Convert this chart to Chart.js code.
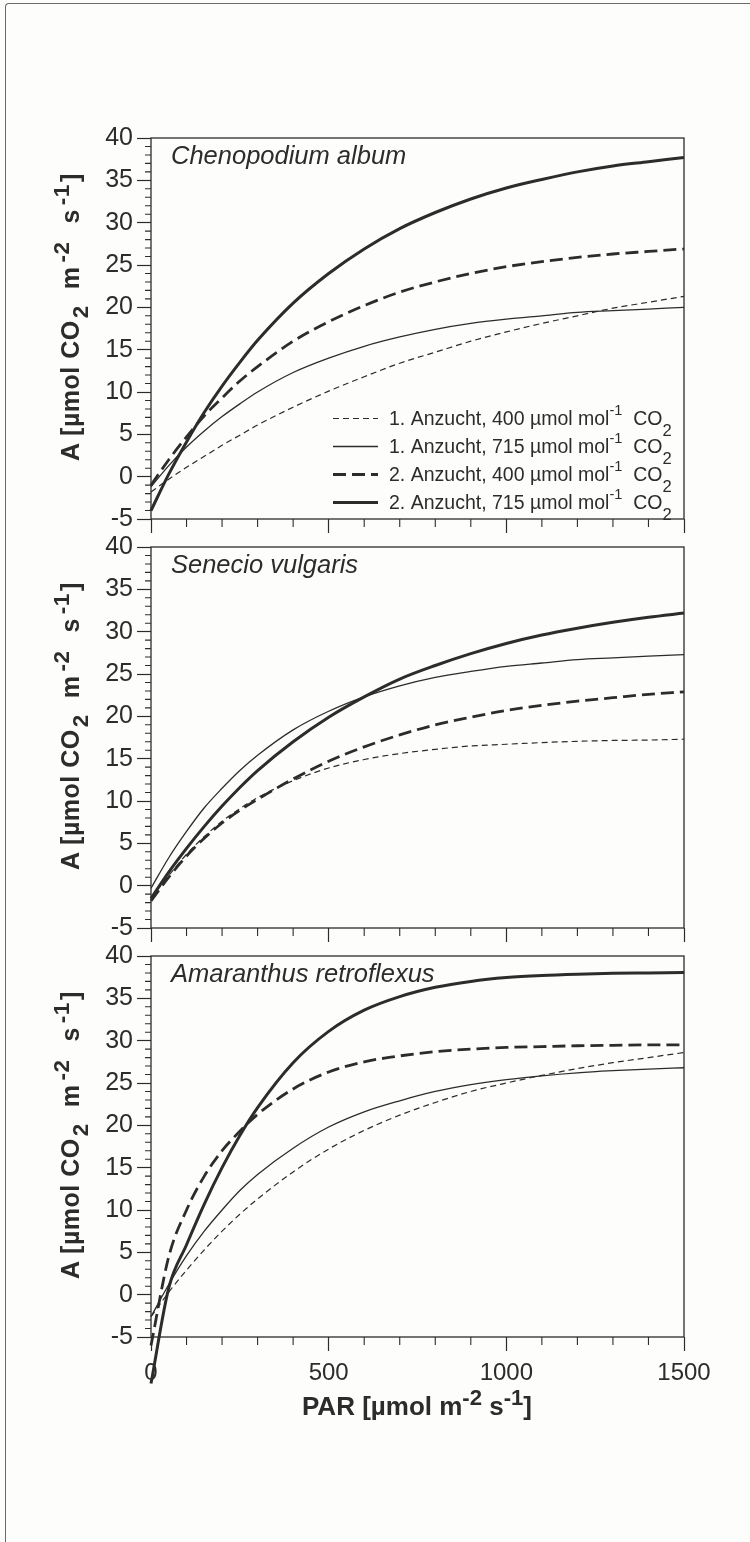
<!DOCTYPE html>
<html>
<head>
<meta charset="utf-8">
<script src="https://cdn.jsdelivr.net/npm/chart.js@4.4.1/dist/chart.umd.min.js"></script>
<style>
  html, body { margin: 0; padding: 0; background: #fff; }
  #page { position: relative; width: 750px; height: 1542px; overflow: hidden; background: #fdfdfc; }
  #frame { position: absolute; left: 5px; top: 3px; right: -10px; bottom: -10px;
           border-top: 1.5px solid #6a6a6a; border-left: 1.5px solid #6a6a6a; border-top-left-radius: 4px; }
  canvas { position: absolute; left: 0; }
  .ytitle { position: absolute; left: 58px; transform-origin: 0 0; transform: rotate(-90deg);
            font: bold 25px/25px "Liberation Sans", Arial, sans-serif; letter-spacing: 0.5px;
            color: #2c2c2c; white-space: nowrap; }
  .ytitle .sb { position: relative; top: 0.4em; font-size: 0.9em; margin: 0 16px 0 2px; }
  .ytitle .sp { position: relative; top: -0.45em; font-size: 0.9em; margin: 0 18px 0 4px; }
  .ytitle .sp.end { margin-right: 2px; }
  #xtitle { position: absolute; left: 417px; top: 1393px; transform: translateX(-50%);
            font: bold 26px/26px "Liberation Sans", Arial, sans-serif; color: #2c2c2c; white-space: nowrap; }
  #xtitle .sp { position: relative; top: -0.45em; font-size: 0.85em; }
</style>
</head>
<body>
<div id="page">
  <div id="frame"></div>
  <canvas id="p1" width="750" height="439" style="top:110px"></canvas>
  <canvas id="p2" width="750" height="439" style="top:519px"></canvas>
  <canvas id="p3" width="750" height="469" style="top:928px"></canvas>
  <div class="ytitle" style="top:461px">A [µmol CO<span class="sb">2</span>m<span class="sp">-2</span>s<span class="sp end">-1</span>]</div>
  <div class="ytitle" style="top:870px">A [µmol CO<span class="sb">2</span>m<span class="sp">-2</span>s<span class="sp end">-1</span>]</div>
  <div class="ytitle" style="top:1279px">A [µmol CO<span class="sb">2</span>m<span class="sp">-2</span>s<span class="sp end">-1</span>]</div>
  <div id="xtitle">PAR [µmol m<span class="sp">-2</span> s<span class="sp">-1</span>]</div>
</div>
<script>
// PAR [µmol m-2 s-1]
const PAR = [0, 50, 100, 150, 200, 250, 300, 400, 500, 600, 700, 800, 900, 1000, 1100, 1200, 1300, 1400, 1500];

// Chenopodium album
const cheno1_400 = [-1.8, -0.3, 1.1, 2.4, 3.7, 4.9, 6.1, 8.2, 10.1, 11.8, 13.4, 14.7, 16.0, 17.1, 18.1, 19.0, 19.9, 20.6, 21.3];
const cheno1_715 = [-1.2, 1.3, 3.5, 5.4, 7.1, 8.6, 10.0, 12.3, 14.0, 15.4, 16.5, 17.4, 18.1, 18.6, 19.0, 19.4, 19.6, 19.8, 20.0];
const cheno2_400 = [-1.0, 2.0, 4.7, 7.2, 9.3, 11.3, 13.0, 16.0, 18.3, 20.2, 21.8, 23.0, 24.0, 24.8, 25.4, 25.9, 26.3, 26.6, 26.9];
const cheno2_715 = [-4.0, 0.3, 4.1, 7.6, 10.7, 13.5, 16.1, 20.5, 24.0, 26.9, 29.3, 31.2, 32.8, 34.1, 35.1, 36.0, 36.7, 37.2, 37.7];

// Senecio vulgaris
const sen1_400 = [-1.5, 1.2, 3.7, 5.8, 7.6, 9.1, 10.4, 12.4, 13.9, 14.9, 15.6, 16.1, 16.5, 16.7, 16.9, 17.05, 17.15, 17.2, 17.3];
const sen1_715 = [-0.3, 3.3, 6.4, 9.2, 11.5, 13.6, 15.4, 18.4, 20.6, 22.3, 23.6, 24.6, 25.3, 25.9, 26.3, 26.7, 26.9, 27.1, 27.3];
const sen2_400 = [-1.8, 1.0, 3.5, 5.6, 7.4, 8.9, 10.2, 12.6, 14.7, 16.4, 17.8, 19.0, 19.9, 20.7, 21.3, 21.8, 22.2, 22.6, 22.9];
const sen2_715 = [-1.5, 1.6, 4.4, 7.0, 9.4, 11.6, 13.6, 17.0, 19.9, 22.3, 24.4, 26.0, 27.4, 28.6, 29.6, 30.4, 31.1, 31.7, 32.2];

// Amaranthus retroflexus
const ama1_400 = [-2.6, 0.3, 2.9, 5.3, 7.5, 9.5, 11.3, 14.5, 17.2, 19.4, 21.2, 22.7, 24.0, 25.0, 25.9, 26.7, 27.4, 28.0, 28.6];
const ama1_715 = [-2.6, 1.2, 4.6, 7.5, 10.0, 12.3, 14.2, 17.3, 19.8, 21.6, 22.9, 24.0, 24.8, 25.4, 25.85, 26.2, 26.45, 26.65, 26.8];
const ama2_400 = [-6.0, 4.5, 10.0, 14.0, 17.0, 19.3, 21.3, 24.3, 26.3, 27.5, 28.2, 28.7, 29.0, 29.2, 29.3, 29.4, 29.45, 29.5, 29.5];
const ama2_715 = [-10.5, 0.8, 5.9, 10.7, 15.0, 18.8, 22.1, 27.4, 31.1, 33.6, 35.2, 36.3, 37.0, 37.45, 37.7, 37.85, 37.95, 38.0, 38.05];

const LEGEND_LABELS = ['1. Anzucht, 400', '1. Anzucht, 715', '2. Anzucht, 400', '2. Anzucht, 715'];
const Y_MIN = -5, Y_MAX = 40;
const X_MIN = 0, X_MAX = 1500;

const INK = '#2c2c2c';
const FONT = '"Liberation Sans", Arial, sans-serif';
const STYLES = [
  { w: 1.2, dash: [6, 4] },
  { w: 1.3, dash: [] },
  { w: 2.8, dash: [13, 6] },
  { w: 3.0, dash: [] }
];

// text with super/subscripts, left to right
function drawRich(ctx, x, y, parts, size) {
  for (const [t, kind] of parts) {
    const s = kind === 'sup' ? size * 0.75 : kind === 'sub' ? size * 0.85 : size;
    const dy = kind === 'sup' ? -size * 0.5 : kind === 'sub' ? size * 0.55 : 0;
    ctx.font = s + 'px ' + FONT;
    ctx.fillText(t, x, y + dy);
    x += ctx.measureText(t).width;
  }
}

const decor = {
  id: 'decor',
  afterDraw(chart, args, opts) {
    const { ctx, chartArea: a, scales: { x, y } } = chart;
    ctx.save();
    ctx.strokeStyle = INK;
    ctx.fillStyle = INK;

    // box
    ctx.lineWidth = 1.3;
    ctx.setLineDash([]);
    ctx.strokeRect(a.left, a.top, a.right - a.left, a.bottom - a.top);

    // minor ticks
    ctx.lineWidth = 1.1;
    ctx.beginPath();
    for (let v = Y_MIN; v <= Y_MAX; v++) {
      if (v % 5 === 0) continue;
      const py = y.getPixelForValue(v);
      ctx.moveTo(a.left - 6, py);
      ctx.lineTo(a.left, py);
    }
    for (let v = X_MIN; v <= X_MAX; v += 100) {
      if (v % 500 === 0) continue;
      const px = x.getPixelForValue(v);
      ctx.moveTo(px, a.bottom);
      ctx.lineTo(px, a.bottom + 8);
    }
    ctx.stroke();

    // species name
    ctx.font = 'italic 25.5px ' + FONT;
    ctx.textBaseline = 'alphabetic';
    ctx.fillText(opts.species, a.left + 20, a.top + 26);

    // legend (first panel only)
    if (opts.legend) {
      chart.data.datasets.forEach((ds, i) => {
        const base = a.bottom - 94 + i * 28;
        ctx.lineWidth = ds.borderWidth;
        ctx.setLineDash(ds.borderDash);
        ctx.beginPath();
        ctx.moveTo(333, base - 6.5);
        ctx.lineTo(378, base - 6.5);
        ctx.stroke();
        ctx.setLineDash([]);
        drawRich(ctx, 389, base, [[ds.label + ' µmol mol', null], ['-1', 'sup'], ['  CO', null], ['2', 'sub']], 19.5);
      });
    }
    ctx.restore();
  }
};

function makePanel(id, series, species, showLegend, showXLabels, xAxisH) {
  return new Chart(document.getElementById(id), {
    type: 'line',
    data: {
      datasets: series.map((vals, i) => ({
        label: LEGEND_LABELS[i],
        data: PAR.map((p, j) => ({ x: p, y: vals[j] })),
        borderColor: INK,
        borderWidth: STYLES[i].w,
        borderDash: STYLES[i].dash,
        pointRadius: 0,
        fill: false,
        cubicInterpolationMode: 'monotone',
        clip: false
      }))
    },
    options: {
      responsive: false,
      animation: false,
      devicePixelRatio: 1,
      layout: { padding: { left: 0, right: 66, top: 28, bottom: 0 } },
      plugins: {
        legend: { display: false },
        tooltip: { enabled: false },
        decor: { species: species, legend: showLegend }
      },
      scales: {
        x: {
          type: 'linear', min: X_MIN, max: X_MAX,
          ticks: {
            stepSize: 500, autoSkip: false, maxRotation: 0, padding: 8, color: INK,
            font: { family: FONT, size: 24 },
            callback: v => showXLabels ? String(v) : ''
          },
          grid: { drawOnChartArea: false, tickLength: 14, tickWidth: 1.2, tickColor: INK },
          border: { display: false },
          afterFit: s => { s.height = xAxisH; }
        },
        y: {
          min: Y_MIN, max: Y_MAX,
          ticks: { stepSize: 5, padding: 4, color: INK, font: { family: FONT, size: 25 } },
          grid: { drawOnChartArea: false, tickLength: 14, tickWidth: 1.2, tickColor: INK },
          border: { display: false },
          afterFit: s => { s.width = 151; }
        }
      }
    },
    plugins: [decor]
  });
}

makePanel('p1', [cheno1_400, cheno1_715, cheno2_400, cheno2_715], 'Chenopodium album', true, false, 30);
makePanel('p2', [sen1_400, sen1_715, sen2_400, sen2_715], 'Senecio vulgaris', false, false, 30);
makePanel('p3', [ama1_400, ama1_715, ama2_400, ama2_715], 'Amaranthus retroflexus', false, true, 60);
</script>
</body>
</html>
